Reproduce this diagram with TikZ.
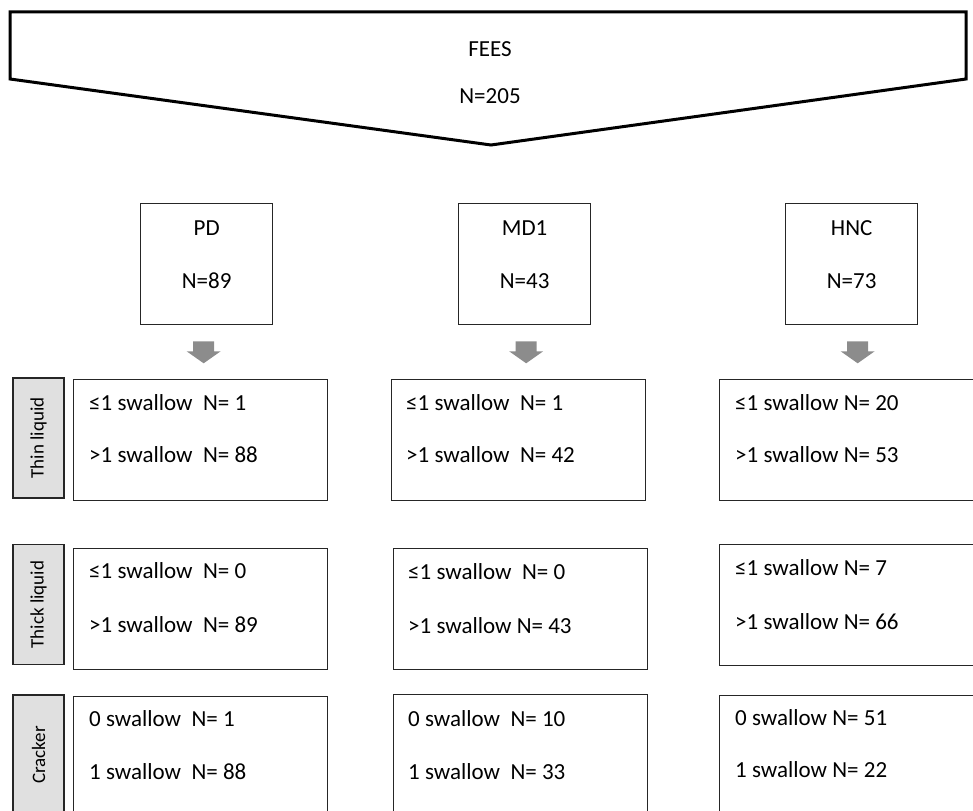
\documentclass[tikz,border=0pt]{standalone}
\usepackage{fontspec}
\setmainfont{Carlito}
\usetikzlibrary{calc}
\begin{document}
\begin{tikzpicture}[x=1pt,y=-1pt,
  every node/.style={font=\fontsize{23}{27}\selectfont},
  feesline/.style={draw=black, line width=3pt, line join=miter},
  grpbox/.style={draw=black!85, line width=1.3pt, rectangle, minimum width=132pt, minimum height=121pt, inner sep=0pt, anchor=north west},
  resbox/.style={draw=black!85, line width=1.3pt, rectangle, minimum width=254pt, minimum height=121pt, inner sep=0pt, anchor=north west},
  labbox/.style={draw=black!85, fill=black!12, line width=1.3pt, rectangle, rotate=90, minimum width=120pt, minimum height=51pt, inner sep=0pt, font=\fontsize{19}{21}\selectfont},
  txtline/.style={anchor=base west, inner sep=0pt},
  hdr/.style={anchor=base, inner sep=0pt},
  garrow/.style={fill=black!45, draw=none}
]
\useasboundingbox (0,0) rectangle (973,810);
\clip (0,0) rectangle (973,810);

% top pentagon
\coordinate (ptl) at (10,12);
\coordinate (ptr) at (966,12);
\coordinate (prr) at (966,79);
\coordinate (ptip) at (491,145);
\coordinate (pll) at (10,79);
\draw[feesline] (ptl) -- (ptr) -- (prr) -- (ptip) -- (pll) -- cycle;
\node[hdr] (fees) at (490,57) {FEES};
\node[hdr] (feesn) at (490,104) {N=205};

% group boxes
\node[grpbox] (pd) at (140,203) {};
\node[grpbox] (md) at (458,203) {};
\node[grpbox] (hnc) at (785,203) {};
\node[hdr] (pdt) at ($(pd.north)+(0,32)$) {PD};
\node[hdr] (pdn) at ($(pd.north)+(0,85)$) {N=89};
\node[hdr] (mdt) at ($(md.north)+(0,33)$) {MD1};
\node[hdr] (mdn) at ($(md.north)+(0,85)$) {N=43};
\node[hdr] (hnct) at ($(hnc.north)+(0,33)$) {HNC};
\node[hdr] (hncn) at ($(hnc.north)+(0,85)$) {N=73};

% gray block arrows
\newcommand\grayarrow[2]{%
  \fill[garrow] ($(#1.south)+(#2,16)$) ++(-10.5,0) -- ++(21,0) -- ++(0,10) -- ++(6.5,0) -- ++(-17,12) -- ++(-17,-12) -- ++(6.5,0) -- cycle;}
\grayarrow{pd}{-3}
\grayarrow{md}{1.5}
\grayarrow{hnc}{6}

% row labels
\node[labbox] (lthin) at (38.5,438) {Thin liquid};
\node[labbox] (lthick) at (38.5,604.5) {Thick liquid};
\node[labbox] (lcrack) at (38.5,755) {Cracker};

% result boxes
\node[resbox] (pdthin) at (73,379) {};
\node[resbox] (pdthick) at (73,548) {};
\node[resbox] (pdcrack) at (73,696) {};
\node[resbox] (mdthin) at (391,379) {};
\node[resbox] (mdthick) at (393,548) {};
\node[resbox] (mdcrack) at (393,694) {};
\node[resbox, minimum width=258pt] (hncthin) at (719,379) {};
\node[resbox, minimum width=258pt] (hncthick) at (719,544) {};
\node[resbox, minimum width=258pt] (hnccrack) at (719,695) {};

% texts
\node[txtline] (t11) at (89,410) {≤1 swallow\ \ N= 1};
\node[txtline] (t12) at (89,462) {>1 swallow\ \ N= 88};
\node[txtline] (t13) at (89,578) {≤1 swallow\ \ N= 0};
\node[txtline] (t14) at (89,632) {>1 swallow\ \ N= 89};
\node[txtline] (t15) at (89,726) {0 swallow\ \ N= 1};
\node[txtline] (t16) at (89,779) {1 swallow\ \ N= 88};

\node[txtline] (t21) at (406,410) {≤1 swallow\ \ N= 1};
\node[txtline] (t22) at (406,462) {>1 swallow\ \ N= 42};
\node[txtline] (t23) at (408,579) {≤1 swallow\ \ N= 0};
\node[txtline] (t24) at (408,633) {>1 swallow N= 43};
\node[txtline] (t25) at (408,726) {0 swallow\ \ N= 10};
\node[txtline] (t26) at (408,779) {1 swallow\ \ N= 33};

\node[txtline] (t31) at (735,410) {≤1 swallow N= 20};
\node[txtline] (t32) at (735,462) {>1 swallow N= 53};
\node[txtline] (t33) at (735,575) {≤1 swallow N= 7};
\node[txtline] (t34) at (735,629) {>1 swallow N= 66};
\node[txtline] (t35) at (735,725) {0 swallow N= 51};
\node[txtline] (t36) at (735,777) {1 swallow N= 22};
\end{tikzpicture}
\end{document}
